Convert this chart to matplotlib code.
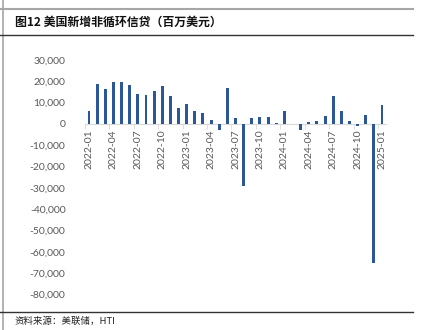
import numpy as np
import matplotlib
matplotlib.use("Agg")
from matplotlib import pyplot as plt
from matplotlib.lines import Line2D

plt.rcParams['font.family'] = ['Lato', 'Noto Sans CJK SC', 'DejaVu Sans']

# monthly non-revolving consumer credit change, millions of USD
months = [f"{y}-{m:02d}" for y in (2022, 2023, 2024) for m in range(1, 13)] + ["2025-01"]
values = [
    6100, 18800, 16300, 19700, 19800, 18300, 14300, 13700, 15500, 17800, 13100, 7400,
    9200, 5900, 5100, 2000, -2800, 17100, 2800, -28900, 2600, 3500, 3500, 300,
    6100, 200, -2800, 900, 1200, 3900, 13200, 6100, 1200, -900, 4200, -65500,
    9100,
]
title = "图12 美国新增非循环信贷（百万美元）"
source = "资料来源：美联储，HTI"

bar_color = "#2B5797"
text_grey = "#595959"

fig = plt.figure(figsize=(4.29, 3.30), dpi=100)
ax = fig.add_axes([0.198, 0.108, 0.702, 0.71])

x = np.arange(len(months))
ax.bar(x, values, width=0.36, color=bar_color, zorder=3)

ax.set_xlim(-0.5, len(months) - 0.5)
ax.set_ylim(-80000, 30000)
ax.set_yticks(np.arange(-80000, 30001, 10000))
ax.yaxis.set_major_formatter(matplotlib.ticker.FuncFormatter(lambda v, p: f"{int(v):,}"))
ax.tick_params(axis='y', length=0, pad=14, labelsize=7.5, labelcolor=text_grey)

# x axis sits on the zero line, labels every quarter
ax.spines['bottom'].set_position(('data', 0))
ax.spines['bottom'].set_color("#D9D9D9")
for s in ('left', 'right', 'top'):
    ax.spines[s].set_visible(False)
ax.set_xticks(x[::3])
ax.set_xticklabels(months[::3], rotation=90)
ax.set_xticks(np.arange(-0.5, len(months), 3), minor=True)
ax.tick_params(axis='x', which='major', length=0, pad=4, labelsize=7.5, labelcolor=text_grey)
ax.tick_params(axis='x', which='minor', length=3.5, color="#D9D9D9", direction='out')

# frame lines and captions
fig.add_artist(Line2D([0.008, 0.008], [0, 1], transform=fig.transFigure, color="#A6A6A6", lw=1.2))
fig.add_artist(Line2D([0, 0.962], [0.972, 0.972], transform=fig.transFigure, color="#A6A6A6", lw=1.5))
fig.add_artist(Line2D([0, 0.962], [0.893, 0.893], transform=fig.transFigure, color="#333333", lw=1.0))
fig.add_artist(Line2D([0, 0.962], [0.056, 0.056], transform=fig.transFigure, color="#333333", lw=1.0))
fig.text(0.035, 0.932, title, fontsize=8.6, fontweight='bold', va='center', ha='left',
         family=['Noto Sans CJK SC', 'DejaVu Sans'], color="#111111")
fig.text(0.033, 0.028, source, fontsize=6.8, va='center', ha='left',
         family=['Noto Sans CJK SC', 'DejaVu Sans'], color="#222222")

fig.savefig("out.png", dpi=100)
